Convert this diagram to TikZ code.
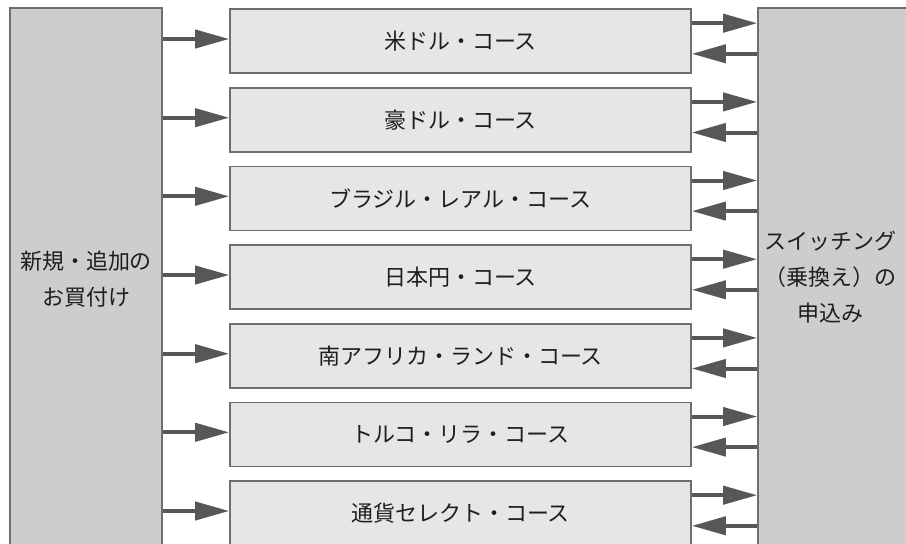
\documentclass[tikz,border=0pt]{standalone}
\usepackage{fontspec}
\setmainfont{Noto Sans CJK JP}
\usetikzlibrary{arrows.meta,calc}
\definecolor{colfill}{HTML}{CDCDCD}
\definecolor{boxfill}{HTML}{E6E6E6}
\definecolor{edge}{HTML}{6E6E6E}
\definecolor{arrowc}{HTML}{575757}
\definecolor{txt}{HTML}{1E1E1E}
\tikzset{
  colbox/.style={draw=edge, line width=1.6pt, fill=colfill, rectangle, inner sep=0pt},
  coursebox/.style={draw=edge, line width=1.6pt, fill=boxfill, rectangle, inner sep=0pt,
    minimum width=461pt, minimum height=64pt, text=txt, font=\fontsize{22}{26}\selectfont},
  coltext/.style={text=txt, align=center, font=\fontsize{22}{36}\selectfont, inner sep=0pt},
  arr/.style={draw=arrowc, line width=4pt, -{Triangle[length=34pt,width=18pt]}, arrowc}
}
\begin{document}
\begin{tikzpicture}[x=1pt,y=-1pt]
\useasboundingbox (0,0) rectangle (906,544);
\fill[white] (0,0) rectangle (906,544);
% columns
\node[colbox, minimum width=152pt, minimum height=552pt] (L) at (86,284) {};
\node[colbox, minimum width=160pt, minimum height=552pt] (R) at (838,284) {};
\node[coltext] (Lt) at (86,279) {新規・追加の\\お買付け};
\node[coltext] (Rt) at (830,277) {スイッチング\\（乗換え）の\\申込み};
% course boxes
\node[coursebox] (b1) at (460.5,41) {米ドル・コース};
\node[coursebox] (b2) at (460.5,119.7) {豪ドル・コース};
\node[coursebox] (b3) at (460.5,198.3) {ブラジル・レアル・コース};
\node[coursebox] (b4) at (460.5,277) {日本円・コース};
\node[coursebox] (b5) at (460.5,355.7) {南アフリカ・ランド・コース};
\node[coursebox] (b6) at (460.5,434.3) {トルコ・リラ・コース};
\node[coursebox] (b7) at (460.5,513) {通貨セレクト・コース};
% arrows
\foreach \b in {b1,b2,b3,b4,b5,b6,b7}{
  \draw[arr] ([yshift=2pt]L.east |- \b.west) -- ([yshift=2pt]\b.west);
  \draw[arr] ($(\b.north east)+(0,15)$) -- ($(\b.north east -| R.west)+(0,15)$);
  \draw[arr] ($(\b.south east -| R.west)+(0,-20)$) -- ($(\b.south east)+(0,-20)$);
}
\end{tikzpicture}
\end{document}
